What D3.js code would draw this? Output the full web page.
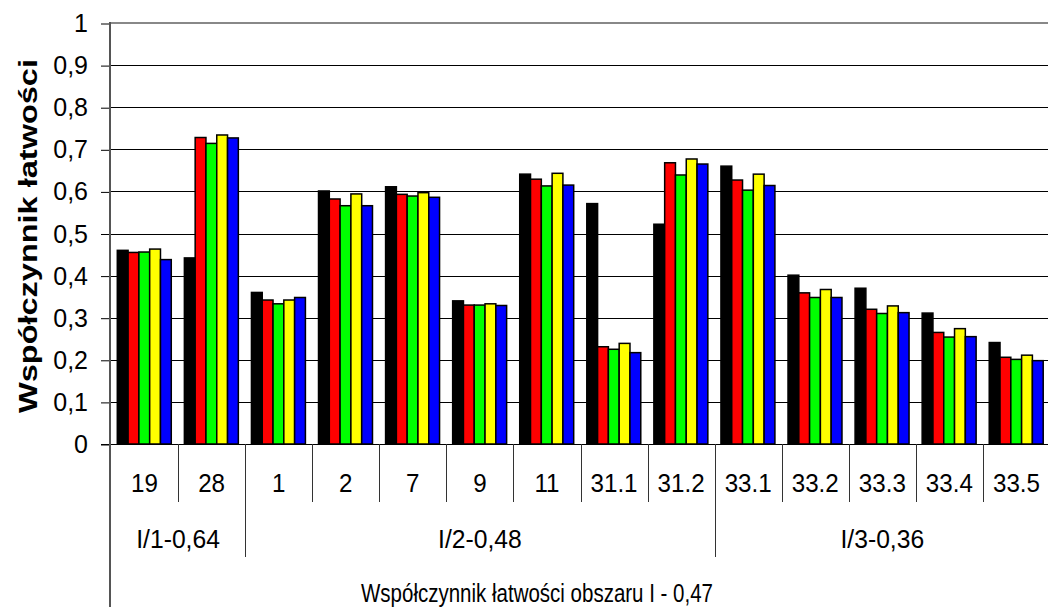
<!DOCTYPE html>
<html>
<head>
<meta charset="utf-8">
<script src="https://cdn.jsdelivr.net/npm/d3@7"></script>
<style>
  html, body { margin: 0; padding: 0; background: #fff; }
  svg { display: block; font-family: "Liberation Sans", Arial, sans-serif; }
</style>
</head>
<body>
<div id="chart"></div>
<script>
// categories (task numbers) and their groups
const categories = ["19", "28", "1", "2", "7", "9", "11", "31.1", "31.2", "33.1", "33.2", "33.3", "33.4", "33.5"];
const groupLabels = ["I/1-0,64", "I/2-0,48", "I/3-0,36"];
const groupSizes = [2, 7, 5];
const axisTitle = "Współczynnik łatwości obszaru I - 0,47";
const yTitle = "Współczynnik łatwości";
const yTicks = [0, 0.1, 0.2, 0.3, 0.4, 0.5, 0.6, 0.7, 0.8, 0.9, 1];

// five series, one value per category
const seriesBlack  = [0.46, 0.442, 0.36, 0.601, 0.611, 0.34, 0.641, 0.571, 0.522, 0.66, 0.401, 0.37, 0.311, 0.241];
const seriesRed    = [0.455, 0.728, 0.342, 0.582, 0.593, 0.33, 0.629, 0.231, 0.668, 0.627, 0.359, 0.32, 0.265, 0.206];
const seriesGreen  = [0.456, 0.714, 0.333, 0.566, 0.589, 0.33, 0.613, 0.225, 0.639, 0.603, 0.348, 0.31, 0.254, 0.201];
const seriesYellow = [0.463, 0.734, 0.342, 0.594, 0.597, 0.333, 0.643, 0.239, 0.677, 0.641, 0.367, 0.328, 0.274, 0.211];
const seriesBlue   = [0.438, 0.727, 0.348, 0.566, 0.586, 0.329, 0.615, 0.217, 0.665, 0.614, 0.348, 0.312, 0.255, 0.198];
const seriesColors = ["#000000", "#ff0000", "#00ff00", "#ffff00", "#0000ff"];

document.addEventListener("DOMContentLoaded", () => {
  const width = 1048, height = 607;
  const left = 111, right = 1050, top = 23, bottom = 444;

  const svg = d3.select("#chart").append("svg").attr("width", width).attr("height", height);

  const series = [seriesBlack, seriesRed, seriesGreen, seriesYellow, seriesBlue];

  const x = d3.scaleBand().domain(categories).range([left, right]).padding(0);
  const x1 = d3.scaleBand().domain(d3.range(series.length)).range([6.3, x.bandwidth() - 6.8]).padding(0);
  const y = d3.scaleLinear().domain([0, 1]).range([bottom, top]);

  // gridlines
  svg.append("g").selectAll("line").data(yTicks.filter(d => d > 0 && d < 1)).join("line")
    .attr("x1", left).attr("x2", width)
    .attr("y1", d => Math.round(y(d)) + 0.5).attr("y2", d => Math.round(y(d)) + 0.5)
    .attr("stroke", "#000").attr("stroke-width", 1);

  // top border of plot area
  svg.append("line").attr("x1", left).attr("x2", width)
    .attr("y1", y(1)).attr("y2", y(1)).attr("stroke", "#888").attr("stroke-width", 2);

  // bars
  const bars = svg.append("g");
  series.forEach((vals, si) => {
    bars.append("g").selectAll("rect").data(vals).join("rect")
      .attr("x", (d, i) => x(categories[i]) + x1(si))
      .attr("y", d => y(d))
      .attr("width", x1.bandwidth())
      .attr("height", d => y(0) - y(d))
      .attr("fill", seriesColors[si])
      .attr("stroke", "#000").attr("stroke-width", 1.5);
  });

  // y axis with ticks and comma decimals
  svg.append("g")
    .attr("transform", `translate(${left},0.5)`)
    .call(d3.axisLeft(y).tickValues(yTicks).tickSize(10).tickPadding(13)
      .tickFormat(d => d3.format(".1~f")(d).replace(".", ",")))
    .call(g => g.select(".domain").remove())
    .call(g => g.selectAll(".tick line").attr("stroke", "#000"))
    .call(g => g.selectAll(".tick text").attr("font-size", 25).attr("font-family", "Liberation Sans, Arial, sans-serif").attr("fill", "#000"));

  // baseline
  svg.append("line").attr("x1", 101).attr("x2", width).attr("y1", bottom + 0.5).attr("y2", bottom + 0.5)
    .attr("stroke", "#000");
  // left axis line, continues down through the category levels
  svg.append("line").attr("x1", left - 1).attr("x2", left - 1).attr("y1", top - 1).attr("y2", height)
    .attr("stroke", "#555").attr("stroke-width", 2);

  // y title
  svg.append("g").attr("transform", "translate(37,236) rotate(-90) scale(1.3,1)")
    .append("text").attr("text-anchor", "middle").attr("font-size", 25).attr("font-weight", "bold")
    .attr("fill", "#000").text(yTitle);

  // category level
  const catBounds = categories.map(c => x(c) + x.bandwidth());
  svg.append("g").selectAll("line").data(catBounds).join("line")
    .attr("x1", d => Math.round(d) + 0.5).attr("x2", d => Math.round(d) + 0.5)
    .attr("y1", bottom).attr("y2", 502).attr("stroke", "#333");
  svg.append("g").selectAll("g").data(categories).join("g")
    .attr("transform", d => `translate(${x(d) + x.bandwidth() / 2},492) scale(0.93,1)`)
    .append("text").attr("text-anchor", "middle").attr("font-size", 26).attr("fill", "#000")
    .text(d => d);

  // group level
  let start = 0;
  const groups = groupLabels.map((g, i) => {
    const s = start; start += groupSizes[i];
    return { label: g, x0: x(categories[s]), x1: x(categories[start - 1]) + x.bandwidth() };
  });
  svg.append("g").selectAll("line").data(groups.slice(0, -1)).join("line")
    .attr("x1", d => Math.round(d.x1) + 0.5).attr("x2", d => Math.round(d.x1) + 0.5)
    .attr("y1", bottom).attr("y2", 557).attr("stroke", "#333");
  svg.append("g").selectAll("g").data(groups).join("g")
    .attr("transform", d => `translate(${(d.x0 + d.x1) / 2},548) scale(0.95,1)`)
    .append("text").attr("text-anchor", "middle").attr("font-size", 26).attr("fill", "#000")
    .text(d => d.label);

  // outer level title
  svg.append("g").attr("transform", "translate(537,602) scale(0.82,1)")
    .append("text").attr("text-anchor", "middle").attr("font-size", 25).attr("fill", "#000")
    .text(axisTitle);
});
</script>
</body>
</html>
